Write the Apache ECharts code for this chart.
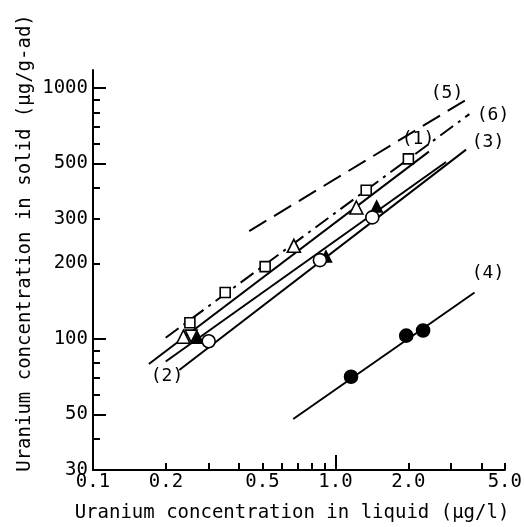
<!DOCTYPE html>
<html><head><meta charset="utf-8">
<script src="https://cdn.jsdelivr.net/npm/echarts@6/dist/echarts.min.js"></script>
<style>html,body{margin:0;padding:0;background:#fff}#c{width:525px;height:527px}</style>
</head><body><div id="c"></div>
<script>
// ---- axis ticks / labels (data units) ----
const xLabelValues = [0.1, 0.2, 0.5, 1.0, 2.0, 5.0];
const xMinorTicks = [0.2, 0.3, 0.4, 0.5, 0.6, 0.7, 0.8, 0.9, 2, 3, 4, 5];
const xMajorTicks = [1.0];
const yLabelValues = [30, 50, 100, 200, 300, 500, 1000];
const yMajorTicks = [50, 100, 500, 1000];
const yMinorTicks = [40, 60, 70, 80, 90, 200, 300, 400, 600, 700, 800, 900];
const xRange = [0.1, 5.0];
const yRange = [30, 1180];

// ---- measured points ----
const squareX = [0.251, 0.351, 0.513, 1.34, 2.00];
const squareY = [116, 153, 194, 391, 522];
const triOpenX = [0.236, 0.674, 1.22];
const triOpenY = [102, 235, 334];
const triInvX = [0.254];
const triInvY = [102.5];
const triFillX = [0.270, 0.914, 1.48];
const triFillY = [101, 213, 337];
const circOpenX = [0.300, 0.863, 1.42];
const circOpenY = [97.8, 206, 305];
const circFillX = [1.16, 1.96, 2.30];
const circFillY = [70.6, 103, 108];

// ---- fitted lines (end points) ----
const line1X = [0.170, 2.43];  const line1Y = [79.4, 558];
const line2X = [0.1995, 2.86]; const line2Y = [81.2, 507];
const line3X = [0.227, 3.46];  const line3Y = [75.1, 568];
const line4X = [0.670, 3.75];  const line4Y = [47.9, 153];
const line5X = [0.441, 3.57];  const line5Y = [269, 914];
const line6X = [0.1995, 3.57]; const line6Y = [101, 787];

const L = v => Math.log10(v);
const pts = (xs, ys) => xs.map((x, i) => [L(x), L(ys[i])]);
const FONT = '"DejaVu Sans Mono", "Liberation Mono", monospace';

const lineSeries = (xs, ys, type) => ({
  type: 'line', data: pts(xs, ys), symbol: 'none', silent: true, z: 2,
  lineStyle: { color: '#000', width: 2, type: type || 'solid' }
});
const scatter = (xs, ys, symbol, size, filled, extra) => Object.assign({
  type: 'scatter', data: pts(xs, ys), symbol: symbol, symbolSize: size, z: 5,
  itemStyle: { color: filled ? '#000' : '#fff', borderColor: '#000', borderWidth: 1.6, opacity: 1 }
}, extra || {});

const baseX = {
  type: 'value', position: 'bottom', min: L(xRange[0]), max: L(xRange[1]), splitLine: { show: false }
};
const baseY = {
  type: 'value', position: 'left', min: L(yRange[0]), max: L(yRange[1]), splitLine: { show: false }
};

const chart = echarts.init(document.getElementById('c'));
chart.setOption({
  animation: false,
  backgroundColor: '#fff',
  grid: { left: 93, right: 18, top: 70, bottom: 57, containLabel: false },
  xAxis: [
    Object.assign({}, baseX, {
      axisLine: { show: true, onZero: false, lineStyle: { color: '#000', width: 2 } },
      axisTick: { show: true, inside: true, length: 7, customValues: xMinorTicks.map(L),
                  lineStyle: { color: '#000', width: 2 } },
      axisLabel: { show: true, customValues: xLabelValues.map(L), margin: 3,
                   color: '#000', fontFamily: FONT, fontSize: 19,
                   formatter: v => Math.pow(10, v).toFixed(1) }
    }),
    Object.assign({}, baseX, {
      axisLine: { show: false, onZero: false },
      axisTick: { show: true, inside: true, length: 15, customValues: xMajorTicks.map(L),
                  lineStyle: { color: '#000', width: 2 } },
      axisLabel: { show: false }
    })
  ],
  yAxis: [
    Object.assign({}, baseY, {
      axisLine: { show: true, onZero: false, lineStyle: { color: '#000', width: 2 } },
      axisTick: { show: true, inside: true, length: 7, customValues: yMinorTicks.map(L),
                  lineStyle: { color: '#000', width: 2 } },
      axisLabel: { show: true, customValues: yLabelValues.map(L), margin: 5,
                   color: '#000', fontFamily: FONT, fontSize: 19,
                   formatter: v => String(Math.round(Math.pow(10, v))) }
    }),
    Object.assign({}, baseY, {
      axisLine: { show: false, onZero: false },
      axisTick: { show: true, inside: true, length: 13, customValues: yMajorTicks.map(L),
                  lineStyle: { color: '#000', width: 2 } },
      axisLabel: { show: false }
    })
  ],
  series: [
    lineSeries(line1X, line1Y),
    lineSeries(line2X, line2Y),
    lineSeries(line3X, line3Y),
    lineSeries(line4X, line4Y),
    lineSeries(line5X, line5Y, [20, 9]),
    lineSeries(line6X, line6Y, [16, 6, 3, 6]),
    scatter(squareX, squareY, 'rect', 10, false),
    scatter(triOpenX, triOpenY, 'triangle', 13, false),
    scatter(triInvX, triInvY, 'triangle', 12, false, { symbolRotate: 180 }),
    scatter(triFillX, triFillY, 'triangle', 11, true),
    scatter(circOpenX, circOpenY, 'circle', 13, false, { z: 6 }),
    scatter(circFillX, circFillY, 'circle', 13, true)
  ],
  graphic: [
    { type: 'text', style: { text: 'Uranium concentration in liquid (\u00b5g/l)',
      x: 292, y: 513, align: 'center', verticalAlign: 'middle', font: '19px ' + FONT, fill: '#000' } },
    { type: 'text', x: 25, y: 243, rotation: Math.PI / 2, style: {
      text: 'Uranium concentration in solid (\u00b5g/g-ad)', x: 0, y: 0,
      align: 'center', verticalAlign: 'middle', font: '19px ' + FONT, fill: '#000' } },
    { type: 'text', style: { text: '(1)', x: 418, y: 139, align: 'center', verticalAlign: 'middle', font: '18px ' + FONT, fill: '#000' } },
    { type: 'text', style: { text: '(2)', x: 167, y: 376, align: 'center', verticalAlign: 'middle', font: '18px ' + FONT, fill: '#000' } },
    { type: 'text', style: { text: '(3)', x: 488, y: 142, align: 'center', verticalAlign: 'middle', font: '18px ' + FONT, fill: '#000' } },
    { type: 'text', style: { text: '(4)', x: 488, y: 273, align: 'center', verticalAlign: 'middle', font: '18px ' + FONT, fill: '#000' } },
    { type: 'text', style: { text: '(5)', x: 447, y: 93, align: 'center', verticalAlign: 'middle', font: '18px ' + FONT, fill: '#000' } },
    { type: 'text', style: { text: '(6)', x: 493, y: 115, align: 'center', verticalAlign: 'middle', font: '18px ' + FONT, fill: '#000' } }
  ]
});
</script></body></html>
